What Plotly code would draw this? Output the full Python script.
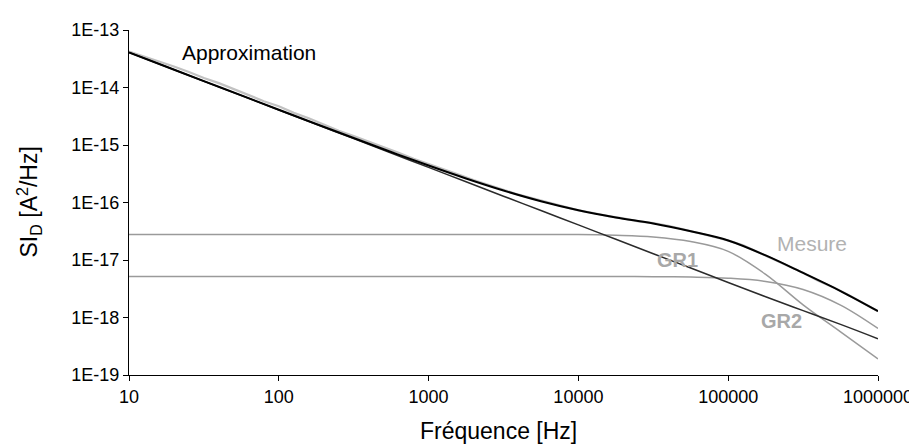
import plotly.graph_objects as go

# ---------------- data ----------------
# frequency grid for the measured spectrum [Hz]
freq_mesure = [10, 12.59, 15.85, 19.95, 25.12, 31.62, 39.81, 50.12, 63.10, 79.43,
               100, 125.9, 158.5, 199.5, 251.2, 316.2, 398.1, 501.2, 631.0, 794.3,
               1000, 1259, 1585, 1995, 2512, 3162, 3981, 5012, 6310, 7943,
               10000, 12589, 15849, 19953, 25119, 31623, 39811, 50119, 63096, 79433,
               100000, 125893, 158489, 199526, 251189, 316228, 398107, 501187, 630957, 794328,
               1000000]
# log10 of SI_D [A^2/Hz] as read on the log axis
mesure_log10 = [-13.375, -13.460, -13.550, -13.635, -13.729, -13.834, -13.924, -14.029, -14.133, -14.238,
                -14.327, -14.441, -14.535, -14.643, -14.752, -14.844, -14.937, -15.043, -15.134, -15.239,
                -15.327, -15.428, -15.513, -15.610, -15.700, -15.779, -15.864, -15.932, -16.008, -16.068,
                -16.137, -16.183, -16.237, -16.275, -16.327, -16.360, -16.405, -16.466, -16.528, -16.586,
                -16.660, -16.746, -16.868, -16.981, -17.105, -17.221, -17.359, -17.472, -17.605, -17.741,
                -17.890]

# frequency grid for the model curves [Hz]
freq_model = [10, 17.78, 31.62, 56.23, 100, 177.8, 316.2, 562.3, 1000, 1778, 3162, 5623,
              10000, 17783, 31623, 56234, 100000, 177828, 316228, 562341, 1000000]
approx_log10 = [-13.390, -13.640, -13.889, -14.138, -14.387, -14.634, -14.879, -15.121, -15.357, -15.582,
                -15.791, -15.977, -16.134, -16.260, -16.365, -16.500, -16.660, -16.920, -17.225, -17.540,
                -17.890]
inv_f_log10 = [-13.390, -13.640, -13.890, -14.140, -14.390, -14.640, -14.890, -15.140, -15.390, -15.640,
               -15.890, -16.140, -16.390, -16.640, -16.890, -17.140, -17.390, -17.640, -17.880, -18.120,
               -18.370]
gr1_log10 = [-16.556, -16.556, -16.556, -16.556, -16.556, -16.556, -16.556, -16.556, -16.556, -16.556,
             -16.556, -16.556, -16.556, -16.570, -16.600, -16.680, -16.850, -17.250, -17.780, -18.250,
             -18.720]
gr2_log10 = [-17.288, -17.288, -17.288, -17.288, -17.288, -17.288, -17.288, -17.288, -17.288, -17.288,
             -17.288, -17.288, -17.288, -17.288, -17.290, -17.297, -17.316, -17.372, -17.512, -17.784,
             -18.190]

x_tick_vals = [10, 100, 1000, 10000, 100000, 1000000]
x_tick_text = ["10", "100", "1000", "10000", "100000", "1000000"]
y_tick_vals = [1e-19, 1e-18, 1e-17, 1e-16, 1e-15, 1e-14, 1e-13]
y_tick_text = ["1E-19", "1E-18", "1E-17", "1E-16", "1E-15", "1E-14", "1E-13"]


def lin(vals):
    return [10 ** v for v in vals]


FONT = "Liberation Sans, Arial, sans-serif"

fig = go.Figure()
fig.add_trace(go.Scatter(x=freq_mesure, y=lin(mesure_log10), mode="lines",
                         line=dict(color="#c2c2c2", width=2.2), name="Mesure"))
fig.add_trace(go.Scatter(x=freq_model, y=lin(gr1_log10), mode="lines",
                         line=dict(color="#9a9a9a", width=1.5, shape="spline"), name="GR1"))
fig.add_trace(go.Scatter(x=freq_model, y=lin(gr2_log10), mode="lines",
                         line=dict(color="#9a9a9a", width=1.5, shape="spline"), name="GR2"))
fig.add_trace(go.Scatter(x=freq_model, y=lin(inv_f_log10), mode="lines",
                         line=dict(color="#2b2b2b", width=1.5, shape="spline"), name="1/f"))
fig.add_trace(go.Scatter(x=freq_model, y=lin(approx_log10), mode="lines",
                         line=dict(color="#000000", width=2, shape="spline"), name="Approximation"))

fig.update_layout(
    width=917, height=444,
    margin=dict(l=121, r=40, t=17, b=77),
    paper_bgcolor="white", plot_bgcolor="white",
    showlegend=False,
    font=dict(family=FONT, color="black", size=18),
    xaxis=dict(type="log", range=[1, 6], tickvals=x_tick_vals, ticktext=x_tick_text,
               showgrid=False, zeroline=False, showline=True, linecolor="black", linewidth=1,
               ticks="outside", ticklen=5, tickcolor="black", tickfont=dict(size=18, family=FONT)),
    yaxis=dict(type="log", range=[-19, -13], tickvals=y_tick_vals, ticktext=y_tick_text,
               showgrid=False, zeroline=False, showline=True, linecolor="black", linewidth=1,
               ticks="outside", ticklen=5, tickcolor="black", tickfont=dict(size=18, family=FONT)),
    annotations=[
        dict(text="Approximation", xref="x", yref="y", x=1.3375, y=-13.383, xanchor="left",
             yanchor="middle", showarrow=False, font=dict(size=21, color="black", family=FONT)),
        dict(text="Mesure", xref="x", yref="y", x=5.315, y=-16.719, xanchor="left",
             yanchor="middle", showarrow=False, font=dict(size=21, color="#b2b2b2", family=FONT)),
        dict(text="<b>GR1</b>", xref="x", yref="y", x=4.508, y=-17.002, xanchor="left",
             yanchor="middle", showarrow=False, font=dict(size=20, color="#a8a8a8", family=FONT)),
        dict(text="<b>GR2</b>", xref="x", yref="y", x=5.2025, y=-18.06, xanchor="left",
             yanchor="middle", showarrow=False, font=dict(size=20, color="#a8a8a8", family=FONT)),
        dict(text="Fréquence [Hz]", xref="paper", yref="paper", x=0.5, y=0, xshift=-5, yshift=-56,
             xanchor="center", yanchor="middle", showarrow=False, font=dict(size=23, family=FONT)),
        dict(text="SI<sub>D</sub> [A<sup>2</sup>/Hz]", xref="paper", yref="paper", x=0, y=0.5,
             xshift=-101, xanchor="center", yanchor="middle", textangle=-90, showarrow=False,
             font=dict(size=23, family=FONT)),
    ],
)

fig.write_html("out.html")
